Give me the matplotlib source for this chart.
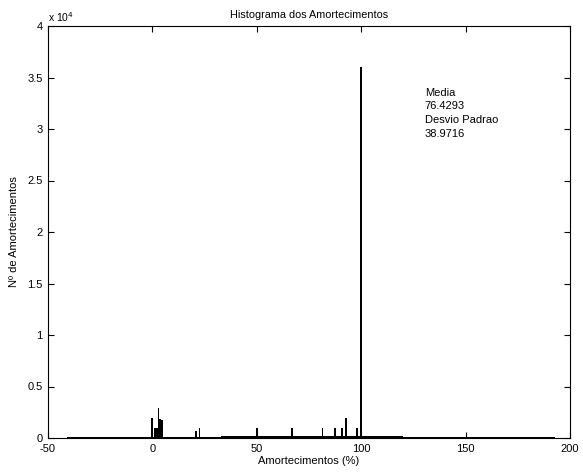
import matplotlib
matplotlib.use("Agg")
import matplotlib.pyplot as plt

plt.rcParams['font.family'] = ['Liberation Sans', 'DejaVu Sans']

# Histogram blocks: left edge (%), width (%), count
bar_left   = [-41.0, 5.0, 33.0, 61.0, 100.0, 120.0,
              -0.6, 0.9, 2.6, 3.3, 4.3, 20.5, 22.1, 49.6, 66.3, 81.0, 87.1, 90.3, 92.3, 97.7, 99.5]
bar_width  = [234.0, 28.0, 28.0, 39.0, 20.0, 27.0,
              0.8, 1.9, 0.8, 1.0, 0.8, 0.8, 0.8, 0.8, 0.8, 0.8, 0.8, 0.8, 0.8, 0.8, 1.0]
bar_count  = [60, 120, 230, 230, 220, 120,
              1940, 970, 2940, 1840, 1750, 680, 970, 950, 950, 970, 970, 970, 1940, 970, 36000]

xticks = [-50, 0, 50, 100, 150, 200]
yticks = [0, 5000, 10000, 15000, 20000, 25000, 30000, 35000, 40000]
ytick_labels = ['0', '0.5', '1', '1.5', '2', '2.5', '3', '3.5', '4']

stats_text = "Media\n76.4293\nDesvio Padrao\n38.9716"

fig = plt.figure(figsize=(5.83, 4.75), dpi=100)
ax = fig.add_axes([48/583, 37/475, 522/583, 412/475])

ax.bar(bar_left, bar_count, width=bar_width, align='edge', color='black',
       edgecolor='none', linewidth=0)

ax.set_xlim(-50, 200)
ax.set_ylim(0, 40000)
ax.set_xticks(xticks)
ax.set_xticklabels([str(t) for t in xticks])
ax.set_yticks(yticks)
ax.set_yticklabels(ytick_labels)
ax.tick_params(direction='in', length=4, width=0.8, top=True, right=True,
               labelsize=8, pad=4)
for s in ax.spines.values():
    s.set_linewidth(0.8)
    s.set_color('black')

ax.set_title("Histograma dos Amortecimentos", fontsize=7.8, pad=6)
ax.set_xlabel("Amortecimentos (%)", fontsize=8, labelpad=2)
ax.set_ylabel("Nº de Amortecimentos", fontsize=8, labelpad=6)

ax.text(0.0, 1.005, r"x 10$^4$", transform=ax.transAxes, fontsize=7.5,
        ha='left', va='bottom')

ax.text(130.5, 34000, stats_text, fontsize=8, ha='left', va='top',
        linespacing=1.45)

fig.savefig("out.png", dpi=100)
